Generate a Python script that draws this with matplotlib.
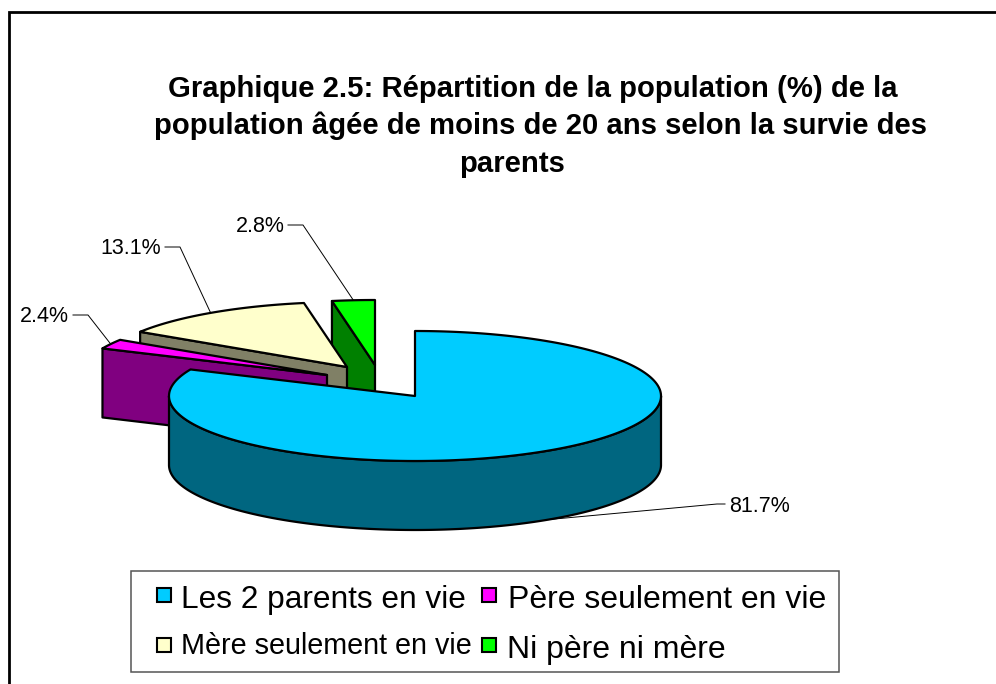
import numpy as np
import matplotlib
matplotlib.use("Agg")
import matplotlib.pyplot as plt
from matplotlib.patches import Polygon, Rectangle

plt.rcParams['font.family'] = ['Liberation Sans', 'DejaVu Sans']

# ---- data ----
categories = ["Les 2 parents en vie", "Père seulement en vie", "Mère seulement en vie", "Ni père ni mère"]
values = [81.7, 2.4, 13.1, 2.8]
title_lines = ["Graphique 2.5: Répartition de la population (%) de la",
               "population âgée de moins de 20 ans selon la survie des",
               "parents"]

# ---- style / layout ----
top_colors = ['#00CCFF', '#FF00FF', '#FFFFCC', '#00FF00']
side_colors = ['#006680', '#800080', '#808066', '#008000']
centers = [(415, 396), (327, 375), (347, 367), (375, 365)]
RX, RY, DEPTH = 246, 65, 69
LW = 1.6
title_pos = [(533, 89), (540, 126), (512, 164)]
title_size = 21.1
label_text_pos = [(729, 506), (69, 316), (161, 248), (285, 226)]
label_ha = ['left', 'right', 'right', 'right']
label_elbow = [(717, 504), (88, 315), (180, 247), (303, 225)]
label_stub = [(725, 504), (73, 315), (165, 247), (288, 225)]
legend_box = (131, 571, 708, 101)
legend_swatch = [(157, 588), (482, 588), (157, 638), (482, 638)]
legend_text = [(181, 608), (508, 608), (181, 654), (507, 658)]
legend_size = [22.8, 23, 20.7, 23]

fig = plt.figure(figsize=(9.96, 6.84), dpi=100)
ax = fig.add_axes([0, 0, 1, 1])
ax.set_xlim(0, 996)
ax.set_ylim(684, 0)
ax.axis('off')

# chart frame (cropped on the right and bottom)
ax.plot([9, 9, 996], [684, 12, 12], color='black', lw=2, solid_joinstyle='miter')

shares = np.array(values) / sum(values) * 360
ends = np.cumsum(shares)
starts = ends - shares


def pt(center, deg, dy=0):
    a = np.radians(deg)
    return center[0] + RX * np.sin(a), center[1] - RY * np.cos(a) + dy


def arc(center, d0, d1, dy=0):
    d = np.linspace(d0, d1, max(int(abs(d1 - d0)) * 2, 2))
    x, y = pt(center, d, dy)
    return np.column_stack([x, y])


def poly(xy, color, z):
    ax.add_patch(Polygon(xy, closed=True, facecolor=color, edgecolor='black',
                         lw=LW, joinstyle='round', zorder=z))


# drawn back to front
z = 3
for i in [3, 2, 1, 0]:
    c = centers[i]
    s, e = starts[i], ends[i]
    if i == 0:
        # outer wall visible along the front half
        a = arc(c, 90, 270)
        poly(np.vstack([a, (a + [0, DEPTH])[::-1]]), side_colors[i], z)
    else:
        # radial cut face that looks towards the viewer
        p = np.array(pt(c, s))
        q = np.array(c, dtype=float)
        poly(np.array([p, q, q + [0, DEPTH], p + [0, DEPTH]]), side_colors[i], z)
    poly(np.vstack([[c], arc(c, s, e)]), top_colors[i], z + 1)
    z += 2

# data labels and leader lines
for i in range(4):
    mid = (starts[i] + ends[i]) / 2
    ox, oy = pt(centers[i], mid, DEPTH if i == 0 else 0)
    ax.plot([ox, label_elbow[i][0], label_stub[i][0]],
            [oy, label_elbow[i][1], label_stub[i][1]], color='black', lw=0.7, zorder=1 if i else 20)
    ax.text(*label_text_pos[i], f"{values[i]:.1f}%", ha=label_ha[i], va='center',
            fontsize=15.5, color='black', zorder=20)

# title
for line, (x, y) in zip(title_lines, title_pos):
    ax.text(x, y, line, ha='center', va='center', fontsize=title_size, fontweight='bold', color='black')

# legend
bx, by, bw, bh = legend_box
ax.add_patch(Rectangle((bx, by), bw, bh, facecolor='white', edgecolor='#555555', lw=1.1, zorder=20))
for i in range(4):
    sx, sy = legend_swatch[i]
    ax.add_patch(Rectangle((sx, sy), 14, 14, facecolor=top_colors[i], edgecolor='black', lw=1.5, zorder=21))
    ax.text(legend_text[i][0], legend_text[i][1], categories[i], ha='left', va='baseline',
            fontsize=legend_size[i], color='black', zorder=21)

fig.savefig('out.png', dpi=100)
